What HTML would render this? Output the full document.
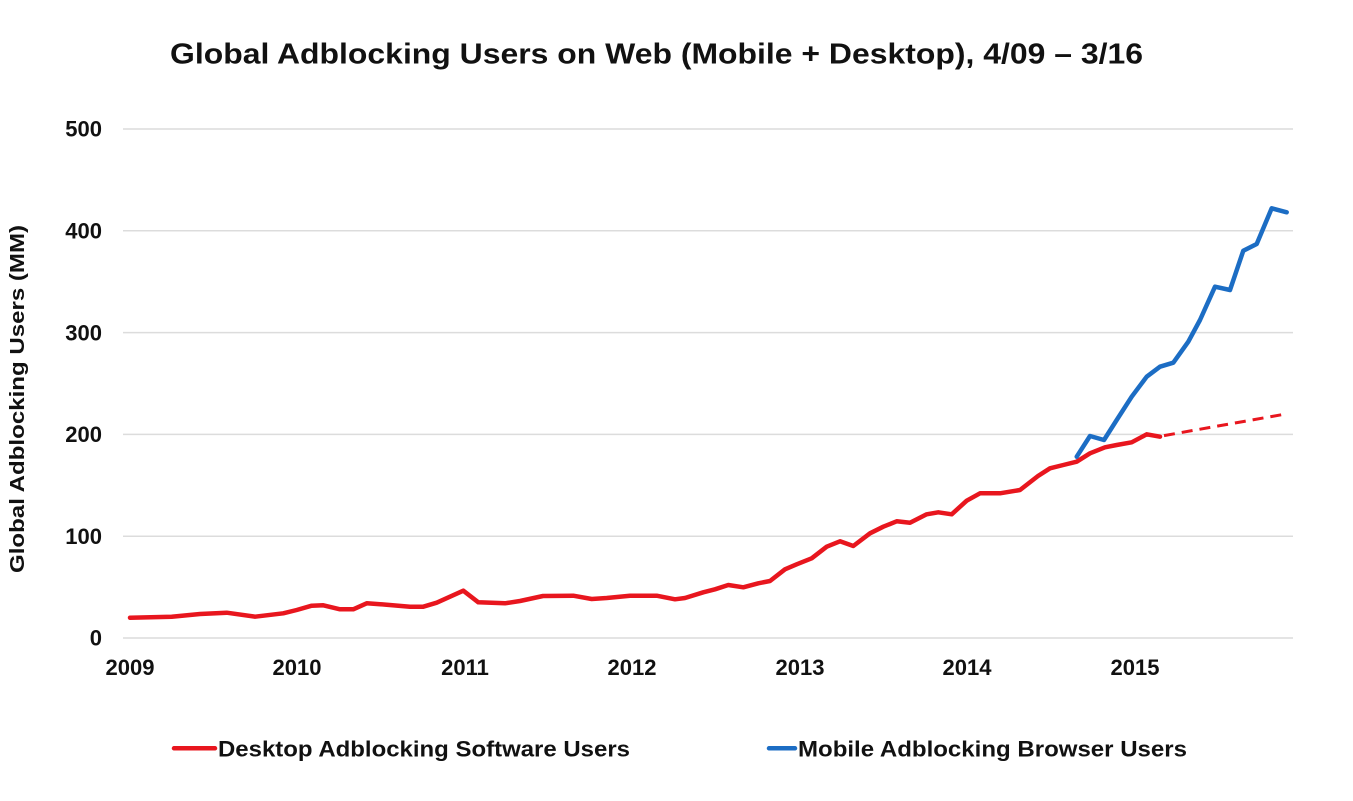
<!DOCTYPE html>
<html>
<head>
<meta charset="utf-8">
<style>
  html,body{margin:0;padding:0;background:#fff;}
  svg{display:block;}
  text{font-family:"Liberation Sans",Arial,sans-serif;font-weight:bold;fill:#111;}
</style>
</head>
<body>
<svg width="1353" height="801" viewBox="0 0 1353 801" xmlns="http://www.w3.org/2000/svg">
  <rect width="1353" height="801" fill="#fff"/>
  <!-- Title -->
  <text x="170" y="63.5" font-size="29" textLength="973" lengthAdjust="spacingAndGlyphs">Global Adblocking Users on Web (Mobile + Desktop), 4/09 – 3/16</text>

  <!-- Gridlines -->
  <g stroke="#dcdcdc" stroke-width="1.5">
    <line x1="123" y1="129" x2="1293" y2="129"/>
    <line x1="123" y1="230.8" x2="1293" y2="230.8"/>
    <line x1="123" y1="332.6" x2="1293" y2="332.6"/>
    <line x1="123" y1="434.4" x2="1293" y2="434.4"/>
    <line x1="123" y1="536.2" x2="1293" y2="536.2"/>
    <line x1="123" y1="638" x2="1293" y2="638"/>
  </g>

  <!-- Y tick labels -->
  <g font-size="22" text-anchor="end">
    <text x="102" y="136.7">500</text>
    <text x="102" y="238.5">400</text>
    <text x="102" y="340.3">300</text>
    <text x="102" y="442.1">200</text>
    <text x="102" y="543.9">100</text>
    <text x="102" y="645.7">0</text>
  </g>

  <!-- X tick labels -->
  <g font-size="22" text-anchor="middle">
    <text x="130" y="675">2009</text>
    <text x="297" y="675">2010</text>
    <text x="465" y="675">2011</text>
    <text x="632" y="675">2012</text>
    <text x="800" y="675">2013</text>
    <text x="967" y="675">2014</text>
    <text x="1135" y="675">2015</text>
  </g>

  <!-- Y axis title -->
  <text x="0" y="0" font-size="20" text-anchor="middle" textLength="348" lengthAdjust="spacingAndGlyphs" transform="translate(24,399) rotate(-90)">Global Adblocking Users (MM)</text>

  <!-- Red series -->
  <polyline fill="none" stroke="#e8161e" stroke-width="4.5" stroke-linejoin="round" stroke-linecap="round"
    points="130,617.7 171.7,616.7 200,614 226.7,612.7 255,616.7 283.3,613.3 296.7,610 311.7,605.7 323.3,605.3 340,609.3 353.3,609.3 366.7,603.3 386.7,604.7 410,606.7 423.3,606.7 436.7,602.7 463.3,590.7 478.3,602.3 505,603.3 520,601 543,596 573.3,595.7 591.7,599 606.7,598 630,595.7 656.7,595.7 675,599.3 685,598 703.3,592.3 715,589.3 728.3,585 743.3,587.3 758.3,583.3 770,581 785,569.3 796.7,564.3 811.7,558.3 826.7,546.7 840,541.3 853.3,546 870,533.3 883.3,526.7 896.7,521.3 910,522.7 926.7,514.3 938.3,512.3 951.7,514.3 966.7,500.7 980,493.3 1000,493.3 1020,490 1038,476 1050,468.3 1063.3,465 1076.7,461.7 1090,453.3 1105,447.3 1116.7,445 1131.7,442.3 1146.7,434.3 1160,436.7"/>
  <!-- Red dashed projection -->
  <line x1="1164" y1="435.6" x2="1284" y2="414.3" stroke="#e8161e" stroke-width="3" stroke-dasharray="11 7"/>

  <!-- Blue series -->
  <polyline fill="none" stroke="#1c6dc4" stroke-width="4.5" stroke-linejoin="round" stroke-linecap="round"
    points="1076.7,456.7 1090,436 1104,440 1116.7,420 1131.7,396.7 1146.7,376.7 1160,366.7 1173.3,362.7 1188.3,341.7 1200,320 1215,286.7 1230,290 1243.3,250.7 1256.7,244 1271.7,208.3 1286.7,212.3"/>

  <!-- Legend -->
  <line x1="174" y1="748.3" x2="215" y2="748.3" stroke="#e8161e" stroke-width="4.5" stroke-linecap="round"/>
  <text x="218" y="756.7" font-size="22" textLength="412" lengthAdjust="spacingAndGlyphs">Desktop Adblocking Software Users</text>
  <line x1="769" y1="748.3" x2="795" y2="748.3" stroke="#1c6dc4" stroke-width="4.5" stroke-linecap="round"/>
  <text x="798" y="756.7" font-size="22" textLength="389" lengthAdjust="spacingAndGlyphs">Mobile Adblocking Browser Users</text>
</svg>
</body>
</html>
